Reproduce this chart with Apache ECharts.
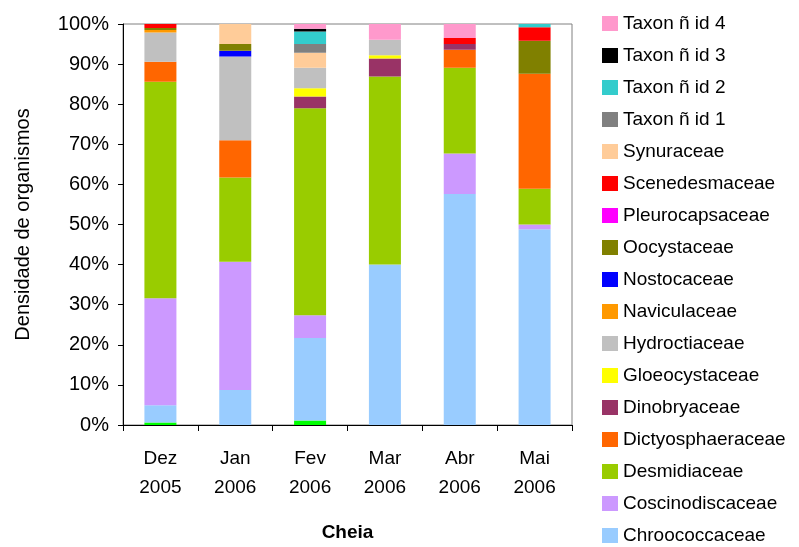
<!DOCTYPE html>
<html>
<head>
<meta charset="utf-8">
<script src="https://cdn.jsdelivr.net/npm/echarts@6/dist/echarts.min.js"></script>
<style>
  html, body { margin: 0; padding: 0; background: #fff; }
  #chart { width: 799px; height: 547px; }
</style>
</head>
<body>
<div id="chart"></div>
<script>
// Sampling months (Cheia period)
const categories = ['Dez\n2005', 'Jan\n2006', 'Fev\n2006', 'Mar\n2006', 'Abr\n2006', 'Mai\n2006'];
const yTicks = [0, 10, 20, 30, 40, 50, 60, 70, 80, 90, 100];

// Relative density (%) per family, stacked bottom to top
const outros            = [0.6, 0, 1.1, 0, 0, 0];
const chroococcaceae    = [4.3, 8.7, 20.6, 40.0, 57.6, 48.8];
const coscinodiscaceae  = [26.7, 32.0, 5.7, 0, 10.1, 1.2];
const desmidiaceae      = [54.0, 21.0, 51.6, 46.9, 21.4, 8.9];
const dictyosphaeraceae = [5.0, 9.3, 0, 0, 4.5, 28.7];
const dinobryaceae      = [0, 0, 2.9, 4.5, 1.4, 0];
const gloeocystaceae    = [0, 0, 2.1, 0.8, 0, 0];
const hydroctiaceae     = [7.3, 20.9, 5.1, 3.9, 0, 0];
const naviculaceae      = [0.6, 0, 0, 0, 0, 0];
const nostocaceae       = [0, 1.4, 0, 0, 0, 0];
const oocystaceae       = [0.5, 1.7, 0, 0, 0, 8.2];
const pleurocapsaceae   = [0, 0, 0, 0, 0, 0];
const scenedesmaceae    = [1.0, 0, 0, 0, 1.5, 3.4];
const synuraceae        = [0, 5.0, 3.7, 0, 0, 0];
const taxon1            = [0, 0, 2.2, 0, 0, 0];
const taxon2            = [0, 0, 3.1, 0, 0, 0.8];
const taxon3            = [0, 0, 0.7, 0, 0, 0];
const taxon4            = [0, 0, 1.2, 3.9, 3.5, 0];

const seriesDefs = [
  { name: 'Outros', data: outros, color: '#00FF00' },
  { name: 'Chroococcaceae', data: chroococcaceae, color: '#99CCFF' },
  { name: 'Coscinodiscaceae', data: coscinodiscaceae, color: '#CC99FF' },
  { name: 'Desmidiaceae', data: desmidiaceae, color: '#99CC00' },
  { name: 'Dictyosphaeraceae', data: dictyosphaeraceae, color: '#FF6600' },
  { name: 'Dinobryaceae', data: dinobryaceae, color: '#993366' },
  { name: 'Gloeocystaceae', data: gloeocystaceae, color: '#FFFF00' },
  { name: 'Hydroctiaceae', data: hydroctiaceae, color: '#C0C0C0' },
  { name: 'Naviculaceae', data: naviculaceae, color: '#FF9900' },
  { name: 'Nostocaceae', data: nostocaceae, color: '#0000FF' },
  { name: 'Oocystaceae', data: oocystaceae, color: '#808000' },
  { name: 'Pleurocapsaceae', data: pleurocapsaceae, color: '#FF00FF' },
  { name: 'Scenedesmaceae', data: scenedesmaceae, color: '#FF0000' },
  { name: 'Synuraceae', data: synuraceae, color: '#FFCC99' },
  { name: 'Taxon ñ id 1', data: taxon1, color: '#808080' },
  { name: 'Taxon ñ id 2', data: taxon2, color: '#33CCCC' },
  { name: 'Taxon ñ id 3', data: taxon3, color: '#000000' },
  { name: 'Taxon ñ id 4', data: taxon4, color: '#FF99CC' }
];

const FONT = 'Liberation Sans, Arial, sans-serif';
const chart = echarts.init(document.getElementById('chart'), null, { renderer: 'canvas' });

const legendNames = seriesDefs.slice(1).map(s => s.name).reverse();

chart.setOption({
  animation: false,
  backgroundColor: '#ffffff',
  grid: {
    left: 123, top: 24, width: 449, height: 406,
    show: true, borderColor: '#808080', borderWidth: 1, backgroundColor: 'transparent'
  },
  legend: {
    type: 'plain',
    orient: 'vertical',
    left: 602, top: 14,
    padding: 0,
    itemWidth: 16, itemHeight: 15, itemGap: 13,
    icon: 'rect',
    data: legendNames,
    textStyle: { fontFamily: FONT, fontSize: 19, color: '#000' },
    selectedMode: false
  },
  xAxis: {
    type: 'category',
    data: categories,
    name: 'Cheia',
    nameLocation: 'middle',
    nameGap: 98,
    nameTextStyle: { fontFamily: FONT, fontSize: 19, fontWeight: 'bold', color: '#000' },
    axisLine: { lineStyle: { color: '#000', width: 1 } },
    axisTick: { show: true, alignWithLabel: false, length: 6, lineStyle: { color: '#000' } },
    axisLabel: { fontFamily: FONT, fontSize: 19, color: '#000', margin: 19, lineHeight: 29 }
  },
  yAxis: {
    type: 'value',
    min: yTicks[0], max: yTicks[yTicks.length - 1], interval: 10,
    name: 'Densidade de organismos',
    nameLocation: 'middle',
    nameGap: 90,
    nameRotate: 90,
    nameTextStyle: { fontFamily: FONT, fontSize: 20, color: '#000' },
    axisLine: { show: true, lineStyle: { color: '#000', width: 1 } },
    axisTick: { show: true, length: 5, inside: false, lineStyle: { color: '#000' } },
    splitLine: { show: false },
    axisLabel: { fontFamily: FONT, fontSize: 20, color: '#000', margin: 14, formatter: '{value}%' }
  },
  series: seriesDefs.map(s => ({
    name: s.name,
    type: 'bar',
    stack: 'total',
    barWidth: 32,
    data: s.data,
    itemStyle: { color: s.color },
    emphasis: { disabled: true }
  }))
});
</script>
</body>
</html>
